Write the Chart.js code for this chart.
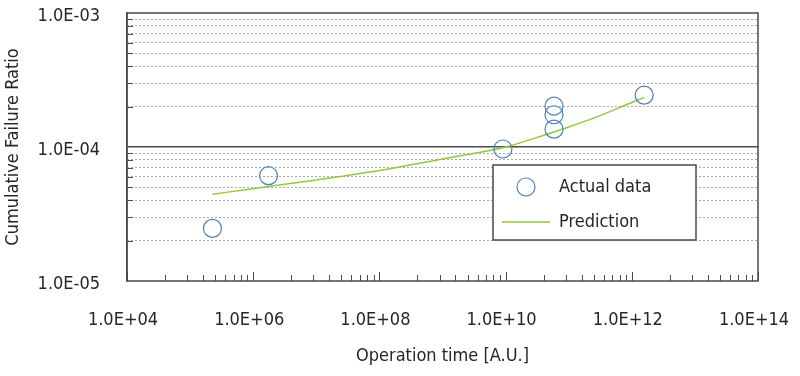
<!DOCTYPE html>
<html>
<head>
<meta charset="utf-8">
<script src="https://cdn.jsdelivr.net/npm/chart.js@4.4.0/dist/chart.umd.min.js"></script>
<style>
  html, body { margin: 0; padding: 0; background: #fff; }
  #wrap { width: 800px; height: 376px; }
</style>
</head>
<body>
<div id="wrap"><canvas id="chart"></canvas></div>
<script>
// measured points
const actualX = [2.26e5, 1.75e6, 9.06e9, 5.85e10, 5.85e10, 5.85e10, 1.57e12];
const actualY = [2.47e-5, 6.11e-5, 9.66e-5, 1.36e-4, 1.74e-4, 2.02e-4, 2.44e-4];
// prediction curve
const predX = [2.26e5, 1e6, 1e7, 1e8, 1e9, 1e10, 3e10, 1e11, 3e11, 1e12, 1.57e12];
const predY = [4.44e-5, 4.89e-5, 5.68e-5, 6.68e-5, 8.14e-5, 1.0e-4, 1.17e-4, 1.41e-4, 1.70e-4, 2.15e-4, 2.34e-4];

const xMajor = [1e4, 1e6, 1e8, 1e10, 1e12, 1e14];
const xTickLabels = ["1.0E+04", "1.0E+06", "1.0E+08", "1.0E+10", "1.0E+12", "1.0E+14"];
const yMajor = [1e-5, 1e-4, 1e-3];
const yTickLabels = ["1.0E-05", "1.0E-04", "1.0E-03"];

const FONT = '"DejaVu Sans Condensed", "DejaVu Sans", sans-serif';
const textCol = "#262626";
const lineCol = "#4a4a4a";
const blue = "rgb(79, 129, 189)";
const green = "rgb(146, 200, 62)";

// minor marks: 2..9 inside each step
const xMinor = [];
for (let i = 0; i < xMajor.length - 1; i++) {
    for (let k = 2; k <= 9; k++) xMinor.push(xMajor[i] * k * k);
}
const yMinor = [];
for (let i = 0; i < yMajor.length - 1; i++) {
    for (let k = 2; k <= 9; k++) yMinor.push(yMajor[i] * k);
}

const frame = {
    id: "frame",
    afterDraw(chart) {
        const { ctx, chartArea: a, scales } = chart;
        ctx.save();
        ctx.strokeStyle = lineCol;
        ctx.lineWidth = 1;
        const tick = (px, len) => {
            px = Math.round(px) + 0.5;
            ctx.beginPath();
            ctx.moveTo(px, a.bottom);
            ctx.lineTo(px, a.bottom - len);
            ctx.stroke();
        };
        xMajor.forEach((v) => tick(scales.x.getPixelForValue(v), 9));
        xMinor.forEach((v) => tick(scales.x.getPixelForValue(v), 6));
        yMinor.forEach((v) => {
            const py = Math.round(scales.y.getPixelForValue(v)) + 0.5;
            ctx.beginPath();
            ctx.moveTo(a.left, py);
            ctx.lineTo(a.left + 6, py);
            ctx.stroke();
        });
        ctx.lineWidth = 1.5;
        ctx.strokeRect(a.left, a.top, a.right - a.left, a.bottom - a.top);

        // legend box
        const lx = a.left + 366, ly = a.top + 152, lw = 203, lh = 75;
        ctx.fillStyle = "#fff";
        ctx.fillRect(lx, ly, lw, lh);
        ctx.strokeRect(lx, ly, lw, lh);
        const ds = chart.data.datasets;
        ctx.strokeStyle = blue;
        ctx.lineWidth = 1.2;
        ctx.beginPath();
        ctx.arc(lx + 33, ly + 22, 9, 0, Math.PI * 2);
        ctx.stroke();
        ctx.strokeStyle = green;
        ctx.lineWidth = 1.5;
        ctx.beginPath();
        ctx.moveTo(lx + 9, ly + 57);
        ctx.lineTo(lx + 57, ly + 57);
        ctx.stroke();
        ctx.fillStyle = textCol;
        ctx.font = "18px " + FONT;
        ctx.textBaseline = "middle";
        ctx.fillText(ds[0].label, lx + 66, ly + 22);
        ctx.fillText(ds[1].label, lx + 66, ly + 57);
        ctx.restore();
    },
};

const chart = new Chart(document.getElementById("chart").getContext("2d"), {
    type: "scatter",
    data: {
        datasets: [
            {
                label: "Actual data",
                data: actualX.map((x, i) => ({ x: x, y: actualY[i] })),
                pointRadius: 9,
                pointBorderColor: blue,
                pointBackgroundColor: "rgba(0,0,0,0)",
                pointBorderWidth: 1.2,
                showLine: false,
            },
            {
                label: "Prediction",
                data: predX.map((x, i) => ({ x: x, y: predY[i] })),
                showLine: true,
                borderColor: green,
                borderWidth: 1.5,
                pointRadius: 0,
                cubicInterpolationMode: "monotone",
                fill: false,
            },
        ],
    },
    options: {
        responsive: true,
        maintainAspectRatio: false,
        animation: false,
        layout: { padding: { top: 13, right: 42, left: 0, bottom: 0 } },
        plugins: {
            legend: { display: false },
            tooltip: { enabled: false },
        },
        scales: {
            x: {
                type: "logarithmic",
                position: "bottom",
                min: 1e4,
                max: 1e14,
                afterBuildTicks: (s) => { s.ticks = xMajor.map((v) => ({ value: v })); },
                afterFit: (s) => { s.height = 95; s.paddingLeft = 0; s.paddingRight = 0; },
                grid: { display: false, drawTicks: false },
                border: { display: false },
                ticks: {
                    callback: (v, i) => xTickLabels[i],
                    padding: 29,
                    labelOffset: -4,
                    maxRotation: 0,
                    autoSkip: false,
                    color: textCol,
                    font: { family: FONT, size: 18 },
                },
                title: {
                    display: true,
                    text: "Operation time [A.U.]",
                    color: textCol,
                    font: { family: FONT, size: 18 },
                    padding: { top: 0, bottom: 9 },
                },
            },
            y: {
                type: "logarithmic",
                position: "left",
                min: 1e-5,
                max: 1e-3,
                afterBuildTicks: (s) => { s.ticks = yMajor.map((v) => ({ value: v })); },
                afterFit: (s) => { s.width = 127; s.paddingTop = 0; s.paddingBottom = 0; },
                grid: {
                    color: (c) => (c.tick && c.tick.value === 1e-4 ? lineCol : "rgba(0,0,0,0)"),
                    lineWidth: 1.5,
                    drawTicks: false,
                },
                border: { display: true, color: lineCol, width: 1.5 },
                ticks: {
                    callback: (v, i) => yTickLabels[i],
                    padding: 27,
                    labelOffset: 3,
                    color: textCol,
                    font: { family: FONT, size: 18 },
                },
                title: {
                    display: true,
                    text: "Cumulative Failure Ratio",
                    color: textCol,
                    font: { family: FONT, size: 18 },
                    padding: { top: 3, bottom: 0 },
                },
            },
            yMinorGrid: {
                type: "logarithmic",
                position: "left",
                min: 1e-5,
                max: 1e-3,
                afterBuildTicks: (s) => { s.ticks = yMinor.map((v) => ({ value: v })); },
                afterFit: (s) => { s.width = 0; s.paddingTop = 0; s.paddingBottom = 0; },
                grid: { color: "#a8a8a8", lineWidth: 1, drawTicks: false },
                border: { display: false, dash: [2, 2] },
                ticks: { display: false },
            },
        },
    },
    plugins: [frame],
});
</script>
</body>
</html>
